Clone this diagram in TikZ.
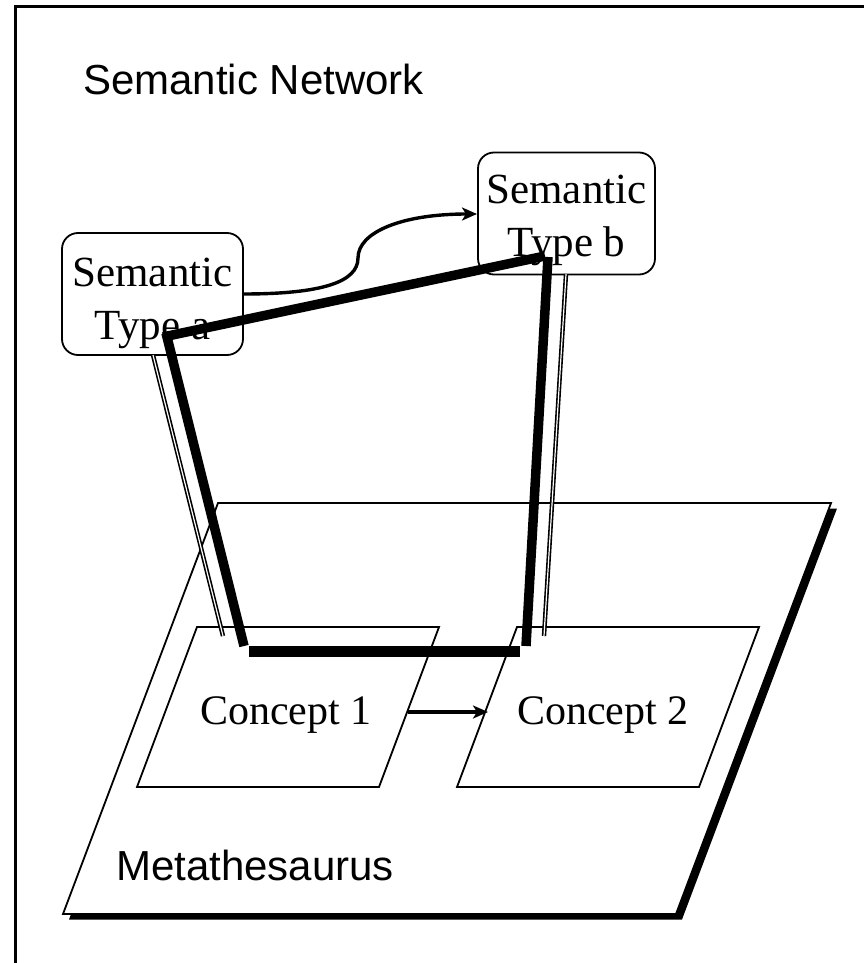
\documentclass[tikz,border=0pt]{standalone}
\usepackage{fontspec}
\setmainfont{Liberation Serif}
\setsansfont{Liberation Sans}
\usetikzlibrary{arrows.meta}
\begin{document}
\begin{tikzpicture}[x=1pt,y=-1pt,
  stbox/.style={draw, rounded corners=16pt, line width=1.8pt, fill=white, inner sep=0pt},
  sttext/.style={align=center, inner sep=0pt, font=\fontsize{43}{53}\selectfont},
  heavy/.style={line width=9.5pt},
  dbl/.style={double, line width=1.6pt, double distance=1.2pt},
  arr/.style={line width=3.4pt, -{Stealth[length=15pt,width=13pt,inset=4pt]}},
  plate/.style={draw, line width=1.8pt, fill=white},
  lbl/.style={font=\sffamily\fontsize{42}{50}\selectfont, anchor=base west, inner sep=0pt},
  clbl/.style={font=\fontsize{42}{50}\selectfont, anchor=base, inner sep=0pt}]
\useasboundingbox (0,0) rectangle (863,963);
% frame
\draw[line width=3pt] (15,970) -- (15,7) -- (870,7);
\node[lbl] (sn) at (83,95) {Semantic Network};
% Metathesaurus plate
\coordinate (p1) at (218,503);
\coordinate (p2) at (831,503);
\coordinate (p3) at (676,914);
\coordinate (p4) at (63,914);
\fill ([xshift=6pt,yshift=-5.5pt]p1) -- ([xshift=6pt,yshift=-5.5pt]p2) -- ([xshift=6pt,yshift=-5.5pt]p3) -- ([xshift=6pt,yshift=-5.5pt]p4) -- cycle;
\path[plate] (p1) -- (p2) -- (p3) -- (p4) -- cycle;
\node[lbl] (meta) at (116,880) {Metathesaurus};
% concept boxes
\draw[line width=1.8pt] (197,627) -- (439,627) -- (379,787) -- (137,787) -- cycle;
\draw[line width=1.8pt] (517,627) -- (759,627) -- (699,787) -- (457,787) -- cycle;
\node[clbl] (c1) at (286,724) {Concept 1};
\node[clbl] (c2) at (603,724) {Concept 2};
\coordinate (c1e) at (408,712);
\coordinate (c2e) at (488,712);
\draw[arr] (c1e) -- (c2e);
% semantic type boxes
\node[stbox, minimum width=181pt, minimum height=122pt] (a) at (152.5,294) {};
\node[sttext] (at) at ([yshift=-9pt]a.center) {Semantic\\Type a};
\node[stbox, minimum width=177pt, minimum height=122pt] (b) at (566.5,213.5) {};
\node[sttext] (bt) at ([yshift=-7pt]b.center) {Semantic\\Type b};
\coordinate (ae) at (243,294);
\coordinate (bw) at (477,214);
\draw[arr] (ae) .. controls (322,294) and (358,282) .. (358,258) .. controls (358,232) and (402,214) .. (bw);
% thin double links
\coordinate (ta1) at (153,355);
\coordinate (ta2) at (223,636);
\coordinate (tb1) at (566,274);
\coordinate (tb2) at (544,636);
\draw[dbl] (ta1) -- (ta2);
\draw[dbl] (tb1) -- (tb2);
% thick links
\coordinate (ja) at (163,337);
\coordinate (jb) at (545,256);
\coordinate (ja2) at (166,333);
\coordinate (jc) at (244,646);
\coordinate (jb2) at (548,257);
\coordinate (jd) at (526,646);
\coordinate (h1) at (249,651.5);
\coordinate (h2) at (520,651.5);
\draw[heavy] (ja) -- (jb);
\draw[heavy] (ja2) -- (jc);
\draw[heavy] (jb2) -- (jd);
\draw[line width=10.5pt] (h1) -- (h2);
\end{tikzpicture}
\end{document}
